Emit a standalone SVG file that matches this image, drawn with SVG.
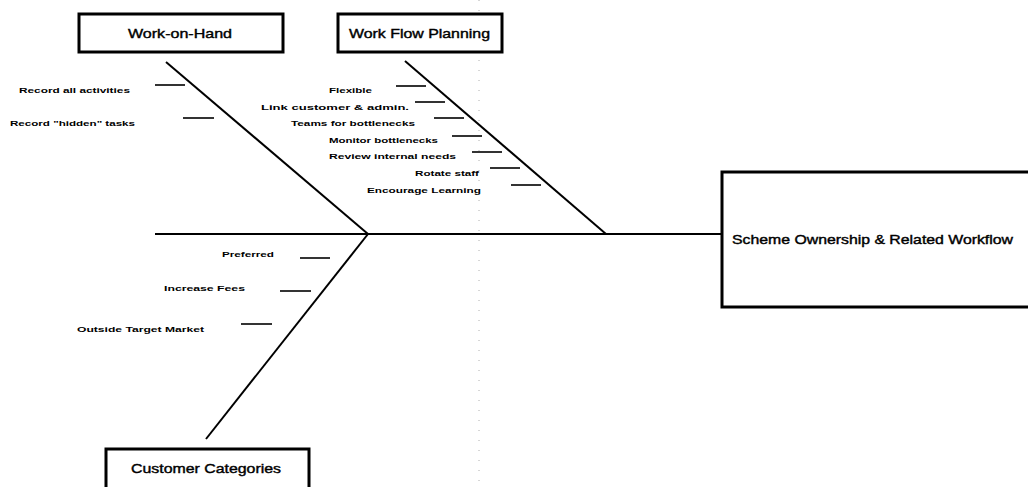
<svg xmlns="http://www.w3.org/2000/svg" width="1028" height="487" viewBox="0 0 1028 487">
<style>
.box{fill:#fff;stroke:#000;stroke-width:3}
.bone{stroke:#000;stroke-width:2;fill:none}
.rib{stroke:#000;stroke-width:1.6}
.t{font-family:"Liberation Sans",Arial,sans-serif;font-size:13px;fill:#000;stroke:#000;stroke-width:0.4}
.s{font-family:"Liberation Sans",Arial,sans-serif;font-size:8px;font-weight:bold;fill:#000}
</style>
<rect width="1028" height="487" fill="#fff"/>
<line x1="479" y1="0" x2="479" y2="487" stroke="#999" stroke-width="0.8" stroke-dasharray="1 9"/>
<g id="connectors">
<line class="bone" x1="155" y1="234" x2="722" y2="234"/>
<line class="bone" x1="166" y1="62" x2="368" y2="234"/>
<line class="bone" x1="405" y1="61" x2="606" y2="234"/>
<line class="bone" x1="368" y1="234" x2="206" y2="439"/>
<line class="rib" x1="155" y1="85" x2="185" y2="85"/>
<line class="rib" x1="183" y1="118" x2="214" y2="118"/>
<line class="rib" x1="396" y1="86" x2="426" y2="86"/>
<line class="rib" x1="415" y1="102" x2="445" y2="102"/>
<line class="rib" x1="434" y1="118" x2="464" y2="118"/>
<line class="rib" x1="452" y1="136" x2="482" y2="136"/>
<line class="rib" x1="472" y1="152" x2="502" y2="152"/>
<line class="rib" x1="490" y1="168" x2="520" y2="168"/>
<line class="rib" x1="511" y1="185" x2="541" y2="185"/>
<line class="rib" x1="300" y1="258" x2="330" y2="258"/>
<line class="rib" x1="280" y1="291" x2="311" y2="291"/>
<line class="rib" x1="241" y1="324" x2="272" y2="324"/>
</g>
<g id="work-on-hand">
<rect class="box" x="79" y="14" width="204" height="38"/>
<text class="t" x="128" y="38" textLength="104" lengthAdjust="spacingAndGlyphs">Work-on-Hand</text>
<text class="s" x="19" y="93" textLength="111" lengthAdjust="spacingAndGlyphs">Record all activities</text>
<text class="s" x="10" y="126" textLength="125" lengthAdjust="spacingAndGlyphs">Record "hidden" tasks</text>
</g>
<g id="work-flow-planning">
<rect class="box" x="338" y="14" width="164" height="38"/>
<text class="t" x="349" y="38" textLength="141" lengthAdjust="spacingAndGlyphs">Work Flow Planning</text>
<text class="s" x="329" y="93" textLength="43" lengthAdjust="spacingAndGlyphs">Flexible</text>
<text class="s" x="261" y="110" textLength="148" lengthAdjust="spacingAndGlyphs">Link customer &amp; admin.</text>
<text class="s" x="291" y="126" textLength="124" lengthAdjust="spacingAndGlyphs">Teams for bottlenecks</text>
<text class="s" x="329" y="143" textLength="109" lengthAdjust="spacingAndGlyphs">Monitor bottlenecks</text>
<text class="s" x="329" y="159" textLength="127" lengthAdjust="spacingAndGlyphs">Review internal needs</text>
<text class="s" x="415" y="176" textLength="64" lengthAdjust="spacingAndGlyphs">Rotate staff</text>
<text class="s" x="367" y="193" textLength="114" lengthAdjust="spacingAndGlyphs">Encourage Learning</text>
</g>
<g id="customer-categories">
<rect class="box" x="106" y="449" width="203" height="42"/>
<text class="t" x="131" y="473" textLength="150" lengthAdjust="spacingAndGlyphs">Customer Categories</text>
<text class="s" x="222" y="257" textLength="52" lengthAdjust="spacingAndGlyphs">Preferred</text>
<text class="s" x="164" y="291" textLength="81" lengthAdjust="spacingAndGlyphs">Increase Fees</text>
<text class="s" x="77" y="332" textLength="127" lengthAdjust="spacingAndGlyphs">Outside Target Market</text>
</g>
<g id="scheme-ownership">
<rect class="box" x="722" y="172" width="312" height="135"/>
<text class="t" x="732" y="244" textLength="281" lengthAdjust="spacingAndGlyphs">Scheme Ownership &amp; Related Workflow</text>
</g>
</svg>
